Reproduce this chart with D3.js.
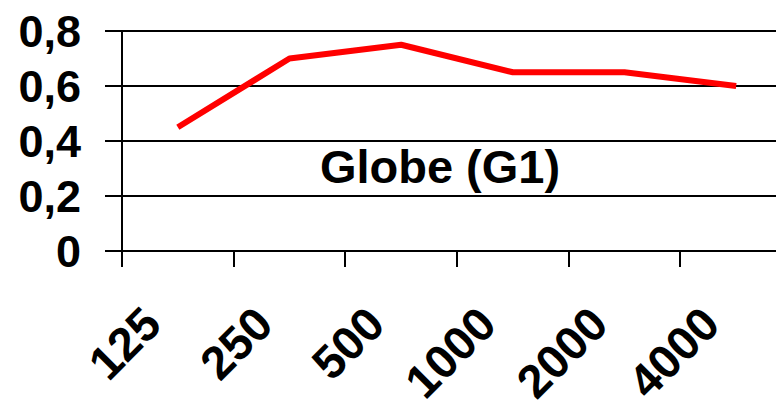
<!DOCTYPE html>
<meta charset="utf-8">
<style>
body { margin: 0; background: #fff; }
svg { display: block; }
.grid line { stroke: #000; stroke-width: 2px; }
.axis text, .title { font: bold 45px "Liberation Sans", Arial, sans-serif; fill: #000; }
.axis--x text { font-size: 47px; }
.title { font-size: 47px; }
.series { fill: none; stroke: #ff0000; stroke-width: 6px; stroke-linejoin: round; }
</style>
<svg width="776" height="404"></svg>
<script src="https://cdn.jsdelivr.net/npm/d3@7/dist/d3.min.js"></script>
<script>
// frequencies (Hz) and the measured values
var categories = ["125", "250", "500", "1000", "2000", "4000"];
var values = [0.45, 0.70, 0.75, 0.65, 0.65, 0.60];
var yTicks = [0, 0.2, 0.4, 0.6, 0.8];
var title = "Globe (G1)";

var svg = d3.select("svg"),
    plotLeft = 122, plotRight = 792, plotTop = 31, plotBottom = 251;

var x = d3.scaleBand().domain(categories).range([plotLeft, plotRight]),
    y = d3.scaleLinear().domain([0, 0.8]).range([plotBottom, plotTop]);

var fmt = function(d) { return d === 0 ? "0" : d3.format(".1f")(d).replace(".", ","); };

// horizontal gridlines (tick part sticks out left of the axis)
svg.append("g")
    .attr("class", "grid")
  .selectAll("line")
  .data(yTicks)
  .enter().append("line")
    .attr("x1", plotLeft - 17)
    .attr("x2", 776)
    .attr("y1", function(d) { return Math.round(y(d)); })
    .attr("y2", function(d) { return Math.round(y(d)); });

// y labels
svg.append("g")
    .attr("class", "axis")
  .selectAll("text")
  .data(yTicks)
  .enter().append("text")
    .attr("x", 81)
    .attr("y", function(d) { return y(d); })
    .attr("dy", "0.36em")
    .attr("text-anchor", "end")
    .text(fmt);

// y axis line
svg.append("line")
    .attr("x1", plotLeft).attr("x2", plotLeft)
    .attr("y1", plotTop).attr("y2", plotBottom + 16)
    .style("stroke", "#000").style("stroke-width", 2);

// x ticks at band boundaries
svg.append("g")
    .attr("class", "grid")
  .selectAll("line")
  .data(categories.slice(1))
  .enter().append("line")
    .attr("x1", function(d) { return Math.round(x(d)); })
    .attr("x2", function(d) { return Math.round(x(d)); })
    .attr("y1", plotBottom)
    .attr("y2", plotBottom + 16);

// x labels, rotated (long ones run off the bottom, as in the original)
svg.append("g")
    .attr("class", "axis axis--x")
  .selectAll("text")
  .data(categories)
  .enter().append("text")
    .attr("text-anchor", "end")
    .attr("transform", function(d) {
      return "translate(" + (x(d) + x.bandwidth() / 2 - 14) + ",327) rotate(-45)";
    })
    .text(function(d) { return d; });

var line = d3.line()
    .x(function(d, i) { return x(categories[i]) + x.bandwidth() / 2; })
    .y(function(d) { return y(d); });

svg.append("path")
    .datum(values)
    .attr("class", "series")
    .attr("d", line);

svg.append("text")
    .attr("class", "title")
    .attr("x", 440)
    .attr("y", 183)
    .attr("text-anchor", "middle")
    .text(title);
</script>
